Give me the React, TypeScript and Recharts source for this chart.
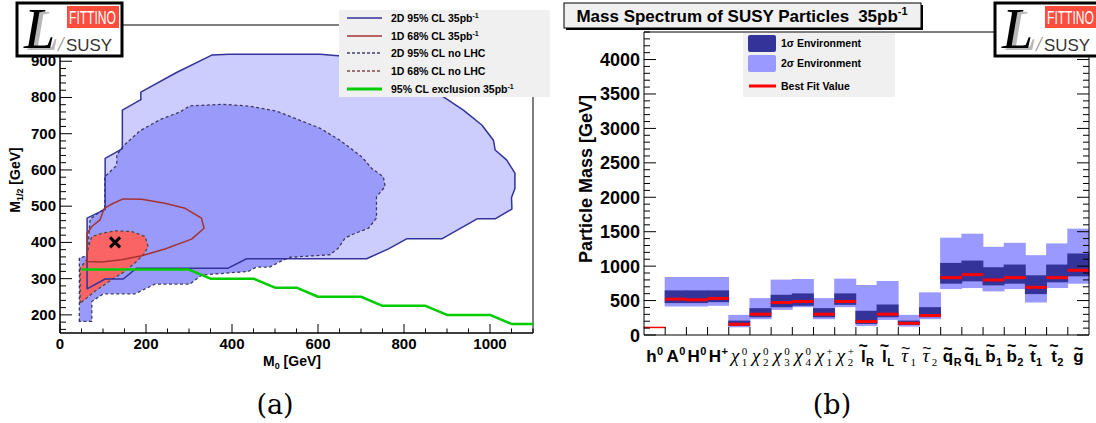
import React from 'react';
import { ComposedChart, Scatter, XAxis, YAxis, ReferenceArea, Bar } from 'recharts';

const SANS = "'Liberation Sans', Arial, Helvetica, sans-serif";
const SERIF = "'Liberation Serif', 'Times New Roman', serif";

// ---------------- Panel (a): M0 / M1/2 plane ----------------
const m0Ticks = [0, 50, 100, 150, 200, 250, 300, 350, 400, 450, 500, 550, 600, 650, 700, 750, 800, 850, 900, 950, 1000, 1050, 1100];
const m12Ticks = [160, 180, 200, 220, 240, 260, 280, 300, 320, 340, 360, 380, 400, 420, 440, 460, 480, 500, 520, 540, 560, 580, 600, 620, 640, 660, 680, 700, 720, 740, 760, 780, 800, 820, 840, 860, 880, 900, 920, 940, 960, 980, 1000];

// 2D 95% CL 35pb^-1 (light blue, solid outline)
const region2D95_35pb = [[63, 272], [63, 467], [105, 491], [105, 632], [132, 650], [145, 659], [145, 765], [188, 794], [188, 815], [271, 869], [353, 917], [395, 919], [605, 919], [640, 916], [700, 910], [760, 893], [820, 864], [860, 832], [891, 802], [938, 765], [981, 724], [1008, 682], [1012, 655], [1039, 627], [1058, 591], [1058, 549], [1050, 524], [1051, 492], [1012, 465], [970, 465], [888, 410], [806, 410], [764, 382], [713, 355], [434, 355], [391, 329], [178, 329], [147, 299], [105, 299]];
// 2D 95% CL no LHC (medium blue, dashed)
const region2D95_noLHC = [[45, 182], [45, 357], [63, 363], [70, 464], [104, 494], [104, 581], [132, 613], [132, 641], [147, 666], [186, 708], [233, 739], [279, 760], [302, 777], [380, 781], [442, 776], [504, 762], [558, 737], [605, 715], [651, 682], [702, 636], [725, 604], [752, 581], [756, 554], [736, 526], [736, 467], [717, 439], [686, 425], [663, 412], [647, 384], [628, 366], [535, 359], [512, 347], [488, 332], [457, 332], [438, 320], [330, 310], [302, 285], [221, 285], [174, 258], [101, 258], [74, 237], [74, 182]];
// 1D 68% CL no LHC (red filled, dashed)
const region1D68_noLHC = [[47, 232], [47, 329], [62, 352], [66, 388], [74, 416], [97, 425], [128, 432], [167, 430], [198, 416], [205, 388], [194, 366], [174, 343], [151, 320], [120, 297], [81, 265]];
// 1D 68% CL 35pb^-1 (dark red outline)
const region1D68_35pb = [[63, 347], [63, 425], [74, 444], [93, 462], [103, 494], [124, 508], [147, 520], [190, 519], [244, 508], [291, 494], [329, 467], [335, 439], [306, 409], [244, 382], [190, 363], [143, 352], [97, 346]];
// 95% CL exclusion 35pb^-1 (green)
const exclusion95 = [[50, 325], [300, 325], [350, 300], [450, 300], [500, 275], [550, 275], [600, 250], [700, 250], [750, 225], [850, 225], [900, 200], [1000, 200], [1050, 175], [1100, 175]];
const bestFitPoint = [[128, 400]];

// ---------------- Panel (b): mass spectrum ----------------
const particleNames = ['h0', 'A0', 'H0', 'H+', 'χ01', 'χ02', 'χ03', 'χ04', 'χ+1', 'χ+2', 'l̃R', 'l̃L', 'τ̃1', 'τ̃2', 'q̃R', 'q̃L', 'b̃1', 'b̃2', 't̃1', 't̃2', 'g̃'];
const particleSymbols = ['h', 'A', 'H', 'H', 'χ', 'χ', 'χ', 'χ', 'χ', 'χ', 'l', 'l', 'τ', 'τ', 'q', 'q', 'b', 'b', 't', 't', 'g'];
const particleSup = ['0', '0', '0', '+', '0', '0', '0', '0', '+', '+', '', '', '', '', '', '', '', '', '', '', ''];
const particleSub = ['', '', '', '', '1', '2', '3', '4', '1', '2', 'R', 'L', '1', '2', 'R', 'L', '1', '2', '1', '2', ''];
const particleTilde = [false, false, false, false, false, false, false, false, false, false, true, true, true, true, true, true, true, true, true, true, true];

const bestFit = [110, 521, 511, 531, 156, 302, 472, 487, 302, 487, 195, 302, 170, 283, 833, 877, 799, 833, 692, 833, 940];
const sigma1Low = [110, 463, 463, 477, 132, 258, 404, 424, 258, 438, 161, 258, 146, 258, 745, 779, 721, 745, 594, 765, 852];
const sigma1High = [110, 648, 648, 648, 209, 390, 584, 604, 390, 604, 351, 443, 209, 404, 1047, 1081, 984, 1023, 867, 1023, 1184];
const sigma2Low = [110, 414, 414, 424, 112, 229, 365, 404, 229, 404, 132, 219, 122, 229, 667, 682, 633, 667, 472, 682, 745];
const sigma2High = [110, 843, 843, 843, 292, 536, 804, 813, 536, 818, 726, 784, 292, 619, 1413, 1471, 1281, 1339, 1159, 1330, 1544];
const massTicks = [0, 100, 200, 300, 400, 500, 600, 700, 800, 900, 1000, 1100, 1200, 1300, 1400, 1500, 1600, 1700, 1800, 1900, 2000, 2100, 2200, 2300, 2400, 2500, 2600, 2700, 2800, 2900, 3000, 3100, 3200, 3300, 3400, 3500, 3600, 3700, 3800, 3900, 4000, 4100, 4200, 4300, 4400];

const massData = particleNames.map((name, i) => ({
  name,
  s2: [sigma2Low[i], sigma2High[i]],
  s1: [sigma1Low[i], sigma1High[i]],
  best: bestFit[i],
}));

const toPts = (arr: number[][]) => arr.map(([x, y]) => ({ x, y }));

const polyRenderer = (fill: string, stroke: string, strokeWidth: number, dash?: string, closed = true) => (props: any) => {
  const pts = ((props && props.points) || []).filter((p: any) => p && p.x != null && p.y != null);
  if (!pts.length) return <g />;
  const d = 'M' + pts.map((p: any) => `${p.x},${p.y}`).join('L') + (closed ? 'Z' : '');
  return <path d={d} fill={fill} stroke={stroke} strokeWidth={strokeWidth} strokeDasharray={dash} strokeLinejoin="round" />;
};
const noDot = () => <g />;
const crossShape = (p: any) => (
  <g stroke="#000" strokeWidth={3}>
    <line x1={p.cx - 5} y1={p.cy - 5} x2={p.cx + 5} y2={p.cy + 5} />
    <line x1={p.cx - 5} y1={p.cy + 5} x2={p.cx + 5} y2={p.cy - 5} />
  </g>
);

const M0Tick = (p: any) => {
  const v = p.payload.value;
  const major = v % 200 === 0;
  return (
    <g>
      <line x1={p.x} x2={p.x} y1={p.y} y2={p.y - (major ? 9 : 4.5)} stroke="#000" />
      {major && (
        <text x={p.x} y={p.y + 16} textAnchor="middle" fontFamily={SANS} fontWeight="bold" fontSize={15} fill="#000">{v}</text>
      )}
    </g>
  );
};
const M12Tick = (p: any) => {
  const v = p.payload.value;
  const major = v % 100 === 0;
  return (
    <g>
      <line x1={p.x} x2={p.x + (major ? 12 : 6)} y1={p.y} y2={p.y} stroke="#000" />
      {major && (
        <text x={p.x - 4} y={p.y + 5} textAnchor="end" fontFamily={SANS} fontWeight="bold" fontSize={15} fill="#000">{v}</text>
      )}
    </g>
  );
};
const MassTick = (p: any) => {
  const v = p.payload.value;
  const major = v % 500 === 0;
  return (
    <g>
      <line x1={p.x} x2={p.x + (major ? 12 : 6)} y1={p.y} y2={p.y} stroke="#000" />
      {major && (
        <text x={p.x - 4} y={p.y + 6.5} textAnchor="end" fontFamily={SANS} fontWeight="bold" fontSize={18} fill="#000">{v}</text>
      )}
    </g>
  );
};
const MassTickRight = (p: any) => {
  const v = p.payload.value;
  const major = v % 500 === 0;
  return <line x1={p.x} x2={p.x - (major ? 12 : 6)} y1={p.y} y2={p.y} stroke="#000" />;
};

const symWidth: Record<string, number> = { h: 0.611, A: 0.722, H: 0.722, 'χ': 0.55, l: 0.278, 'τ': 0.46, q: 0.611, b: 0.611, t: 0.333, g: 0.611 };
const tallSym: Record<string, boolean> = { l: true, b: true, t: true };

const ParticleTick = (p: any) => {
  const i = p.index != null ? p.index : particleNames.indexOf(p.payload.value);
  const count = p.visibleTicksCount || particleNames.length;
  const band = p.width && count ? p.width / count : 21.2;
  const sym = particleSymbols[i];
  const sup = particleSup[i];
  const sub = particleSub[i];
  const greek = sym === 'χ' || sym === 'τ';
  const fs = greek ? 19 : 17;
  const mw = symWidth[sym] * fs;
  const sw = sup || sub ? 6.5 : 0;
  const sx = p.x - (mw + sw) / 2;
  const B = p.y + 27;
  const fam = greek ? SERIF : SANS;
  const wt = greek ? 'normal' : 'bold';
  return (
    <g fill="#000">
      {i < count - 1 && <line x1={p.x + band / 2} x2={p.x + band / 2} y1={p.y} y2={p.y - 8} stroke="#000" />}
      <text x={sx} y={B} fontFamily={fam} fontStyle={greek ? 'italic' : 'normal'} fontWeight={wt} fontSize={fs}>{sym}</text>
      {sup && <text x={sx + mw + 0.5} y={B - 7} fontFamily={fam} fontWeight={wt} fontSize={11}>{sup}</text>}
      {sub && <text x={sx + mw + 0.5} y={B + 4} fontFamily={fam} fontWeight={wt} fontSize={11}>{sub}</text>}
      {particleTilde[i] && (
        <text x={sx + mw / 2} y={B - (tallSym[sym] ? 11 : 8)} textAnchor="middle" fontFamily={SANS} fontWeight={greek ? 'normal' : 'bold'} fontSize={16}>~</text>
      )}
    </g>
  );
};

const bandRect = (fill: string) => (p: any) => {
  if (!p || !(p.height > 0)) return <g />;
  return <rect x={p.x - 0.5} y={p.y} width={p.width + 1} height={p.height} fill={fill} />;
};

const BestLine = (p: any) => {
  const s1 = p.payload && p.payload.s1;
  const thin = s1 && s1[1] - s1[0] < 1;
  return <line x1={p.x - 0.3} x2={p.x + p.width + 0.3} y1={p.y} y2={p.y} stroke="#ff0000" strokeWidth={thin ? 1.5 : 3} />;
};

function Logo({ x, y }: { x: number; y: number }) {
  return (
    <g transform={`translate(${x},${y})`}>
      <rect x={0} y={0} width={105} height={53} fill="#fff" stroke="#000" strokeWidth={3} />
      <rect x={50} y={3} width={52} height={22} fill="#ff4d3d" />
      <text x={52} y={21} fill="#fff" fontFamily={SANS} fontSize={19} textLength={47} lengthAdjust="spacingAndGlyphs">FITTINO</text>
      <text x={11} y={47} fontFamily={SERIF} fontStyle="italic" fontSize={56} fill="#b8b8b8">L</text>
      <text x={7} y={45} fontFamily={SERIF} fontStyle="italic" fontSize={56} fill="#000">L</text>
      <text x={41} y={48} fontFamily={SERIF} fontStyle="italic" fontSize={20} fill="#888">/</text>
      <text x={49} y={48} fill="#333" fontFamily={SANS} fontSize={17} textLength={46} lengthAdjust="spacingAndGlyphs">SUSY</text>
    </g>
  );
}

const leftLegend = [
  { label: '2D 95% CL 35pb', sup: '-1', color: '#333399', dash: undefined as string | undefined, w: 1.5 },
  { label: '1D 68% CL 35pb', sup: '-1', color: '#a33333', dash: undefined, w: 1.5 },
  { label: '2D 95% CL no LHC', sup: '', color: '#404070', dash: '3 2', w: 1.5 },
  { label: '1D 68% CL no LHC', sup: '', color: '#804848', dash: '3 2', w: 1.5 },
  { label: '95% CL exclusion 35pb', sup: '-1', color: '#00cc00', dash: undefined, w: 3 },
];
const leftLegendRows = [18, 36, 53, 71, 89];

export default function App() {
  return (
    <div style={{ position: 'fixed', left: 0, top: 0, width: 1096, height: 423, overflow: 'hidden', background: '#fff' }}>
      <div style={{ position: 'absolute', left: 0, top: 0 }}>
        <ComposedChart width={560} height={423} margin={{ top: 25, right: 27, bottom: 89, left: 59 }}>
          <XAxis dataKey="x" type="number" domain={[0, 1100]} allowDataOverflow ticks={m0Ticks} interval={0} tickLine={false} tickSize={0} tickMargin={0} tick={M0Tick} height={1} axisLine={{ stroke: '#000' }} />
          <YAxis dataKey="y" type="number" domain={[150, 1000]} allowDataOverflow ticks={m12Ticks} interval={0} tickLine={false} tickSize={0} tickMargin={0} tick={M12Tick} width={1} axisLine={{ stroke: '#000' }} />
          <ReferenceArea x1={0} x2={1100} y1={150} y2={1000} fill="none" stroke="#000" strokeWidth={1} />
          <Scatter data={toPts(region2D95_35pb)} line={polyRenderer('#cdcdfd', 'none', 0)} shape={noDot} isAnimationActive={false} legendType="none" />
          <Scatter data={toPts(region2D95_noLHC)} line={polyRenderer('#9a9afa', '#3c3c60', 1.3, '3 2.5')} shape={noDot} isAnimationActive={false} legendType="none" />
          <Scatter data={toPts(region1D68_noLHC)} line={polyRenderer('#fa6464', '#4a4a4a', 1.3, '3 2.5')} shape={noDot} isAnimationActive={false} legendType="none" />
          <Scatter data={toPts(region2D95_35pb)} line={polyRenderer('none', '#333399', 1.5)} shape={noDot} isAnimationActive={false} legendType="none" />
          <Scatter data={toPts(region1D68_35pb)} line={polyRenderer('none', '#a33333', 1.5)} shape={noDot} isAnimationActive={false} legendType="none" />
          <Scatter data={toPts(exclusion95)} line={polyRenderer('none', '#00cc00', 2.5, undefined, false)} shape={noDot} isAnimationActive={false} legendType="none" />
          <Scatter data={toPts(bestFitPoint)} shape={crossShape} isAnimationActive={false} legendType="none" />
        </ComposedChart>
      </div>
      <div style={{ position: 'absolute', left: 560, top: 0 }}>
        <ComposedChart width={536} height={423} data={massData} margin={{ top: 31, right: 6, bottom: 87, left: 83 }} barCategoryGap="0%" barGap="0%">
          <XAxis xAxisId="c2" dataKey="name" type="category" interval={0} tickLine={false} tickSize={0} tickMargin={0} tick={ParticleTick} height={1} axisLine={{ stroke: '#000' }} />
          <XAxis xAxisId="top" orientation="top" dataKey="name" type="category" tick={false} tickLine={false} height={1} axisLine={{ stroke: '#000' }} />
          <XAxis xAxisId="c1" dataKey="name" type="category" hide height={0} />
          <XAxis xAxisId="cb" dataKey="name" type="category" hide height={0} />
          <YAxis yAxisId="l" type="number" domain={[0, 4400]} allowDataOverflow ticks={massTicks} interval={0} tickLine={false} tickSize={0} tickMargin={0} tick={MassTick} width={1} axisLine={{ stroke: '#000' }} />
          <YAxis yAxisId="r" orientation="right" type="number" domain={[0, 4400]} allowDataOverflow ticks={massTicks} interval={0} tickLine={false} tickSize={0} tickMargin={0} tick={MassTickRight} width={1} axisLine={{ stroke: '#000' }} />
          <Bar xAxisId="c2" yAxisId="l" dataKey="s2" fill="#9999ff" barSize={21} shape={bandRect('#9999ff')} isAnimationActive={false} legendType="none" />
          <Bar xAxisId="c1" yAxisId="l" dataKey="s1" fill="#333399" barSize={21} shape={bandRect('#333399')} isAnimationActive={false} legendType="none" />
          <Bar xAxisId="cb" yAxisId="l" dataKey="best" barSize={21} shape={BestLine} isAnimationActive={false} legendType="none" />
        </ComposedChart>
      </div>
      <svg width={1096} height={423} style={{ position: 'absolute', left: 0, top: 0, pointerEvents: 'none' }}>
        {/* panel (a) legend */}
        <rect x={339} y={10} width={211} height={87} fill="#f0f0f0" />
        {leftLegend.map((e, i) => (
          <g key={e.label}>
            <line x1={347} x2={382} y1={leftLegendRows[i]} y2={leftLegendRows[i]} stroke={e.color} strokeWidth={e.w} strokeDasharray={e.dash} />
            <text x={391} y={leftLegendRows[i] + 4} fontFamily={SANS} fontWeight="bold" fontSize={10.5} fill="#000">
              {e.label}
              {e.sup && <tspan dy={-4} fontSize={7}>{e.sup}</tspan>}
            </text>
          </g>
        ))}
        <Logo x={17} y={3} />
        {/* panel (a) axis titles */}
        <text transform="translate(20,180) rotate(-90)" textAnchor="middle" fontFamily={SANS} fontWeight="bold" fontSize={14} fill="#000">
          M<tspan dy={3} fontSize={9}>1/2</tspan><tspan dy={-3}> [GeV]</tspan>
        </text>
        <text x={292} y={366} textAnchor="middle" fontFamily={SANS} fontWeight="bold" fontSize={14} fill="#000">
          M<tspan dy={3} fontSize={9}>0</tspan><tspan dy={-3}> [GeV]</tspan>
        </text>
        <text x={275} y={414} textAnchor="middle" fontFamily="'DejaVu Serif', serif" fontSize={27} fill="#000">(a)</text>

        {/* panel (b) title */}
        <rect x={566} y={5} width={357} height={25} fill="#000" />
        <rect x={564} y={3} width={357} height={25} fill="#f0f0f0" stroke="#000" strokeWidth={1} />
        <text x={742} y={22} textAnchor="middle" fontFamily={SANS} fontWeight="bold" fontSize={17} fill="#000">
          Mass Spectrum of SUSY Particles<tspan dx={9}>35pb</tspan><tspan dy={-7} fontSize={11}>-1</tspan>
        </text>
        {/* panel (b) legend */}
        <rect x={743} y={33} width={152} height={64} fill="#f0f0f0" />
        <rect x={748} y={35} width={28} height={17} fill="#333399" rx={2} />
        <rect x={748} y={55} width={28} height={17} fill="#9999ff" rx={2} />
        <line x1={749} x2={776} y1={86} y2={86} stroke="#ff0000" strokeWidth={3} />
        <text x={781} y={47} fontFamily={SANS} fontWeight="bold" fontSize={10.5} fill="#000">1σ Environment</text>
        <text x={781} y={67} fontFamily={SANS} fontWeight="bold" fontSize={10.5} fill="#000">2σ Environment</text>
        <text x={781} y={90} fontFamily={SANS} fontWeight="bold" fontSize={10.5} fill="#000">Best Fit Value</text>
        <Logo x={995} y={3} />
        <text transform="translate(592,179) rotate(-90)" textAnchor="middle" fontFamily={SANS} fontWeight="bold" fontSize={18} fill="#000">Particle Mass [GeV]</text>
        <text x={832} y={414} textAnchor="middle" fontFamily="'DejaVu Serif', serif" fontSize={27} fill="#000">(b)</text>
      </svg>
    </div>
  );
}
